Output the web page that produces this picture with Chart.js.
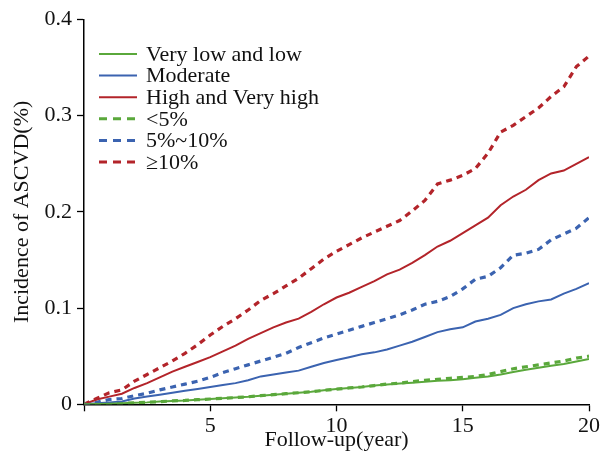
<!DOCTYPE html>
<html>
<head>
<meta charset="utf-8"/>
<title>Incidence of ASCVD</title>
<script src="https://cdn.jsdelivr.net/npm/chart.js@4.4.1/dist/chart.umd.min.js"></script>
<style>
  body { margin: 0; background: #fff; }
  #wrap { width: 612px; height: 454px; }
</style>
</head>
<body>
<div id="wrap"><canvas id="chart" width="612" height="454"></canvas></div>
<script>
// follow-up time (years)
var years = [0, 0.5, 1, 1.5, 2, 2.5, 3, 3.5, 4, 4.5, 5, 5.5, 6, 6.5, 7, 7.5, 8, 8.5, 9, 9.5,
             10, 10.5, 11, 11.5, 12, 12.5, 13, 13.5, 14, 14.5, 15, 15.5, 16, 16.5, 17, 17.5, 18, 18.5, 19, 19.5, 20];

// risk groups (solid)
var lowRisk = [0, 0.0003, 0.0006, 0.001, 0.0015, 0.002, 0.0028, 0.0035, 0.004, 0.0048, 0.0055, 0.0062, 0.007, 0.0078, 0.009, 0.010, 0.011, 0.012, 0.013, 0.0145,
               0.0158, 0.017, 0.018, 0.0195, 0.0205, 0.0215, 0.0225, 0.0235, 0.0245, 0.025, 0.026, 0.0275, 0.029, 0.031, 0.0335, 0.036, 0.038, 0.040, 0.042, 0.0445, 0.047];
var modRisk = [0, 0.001, 0.002, 0.003, 0.006, 0.008, 0.010, 0.012, 0.014, 0.016, 0.018, 0.020, 0.022, 0.025, 0.029, 0.031, 0.033, 0.035, 0.039, 0.043,
               0.046, 0.049, 0.052, 0.054, 0.057, 0.061, 0.065, 0.070, 0.075, 0.078, 0.080, 0.086, 0.089, 0.093, 0.100, 0.104, 0.107, 0.109, 0.115, 0.120, 0.126];
var highRisk = [0, 0.005, 0.008, 0.011, 0.017, 0.022, 0.028, 0.034, 0.039, 0.044, 0.049, 0.055, 0.061, 0.068, 0.074, 0.080, 0.085, 0.089, 0.096, 0.104,
                0.111, 0.116, 0.122, 0.128, 0.135, 0.140, 0.147, 0.155, 0.164, 0.170, 0.178, 0.186, 0.194, 0.207, 0.216, 0.223, 0.233, 0.240, 0.243, 0.250, 0.257];

// predicted 10-year risk groups (dashed)
var under5 = [0, 0.0003, 0.0006, 0.001, 0.0015, 0.002, 0.0028, 0.0035, 0.004, 0.0048, 0.0055, 0.0062, 0.007, 0.0078, 0.009, 0.010, 0.011, 0.012, 0.013, 0.0145,
              0.0158, 0.017, 0.018, 0.0195, 0.021, 0.022, 0.0235, 0.025, 0.026, 0.027, 0.028, 0.029, 0.031, 0.034, 0.037, 0.039, 0.041, 0.043, 0.045, 0.048, 0.050];
var from5to10 = [0, 0.002, 0.005, 0.006, 0.009, 0.0115, 0.015, 0.018, 0.021, 0.024, 0.028, 0.033, 0.037, 0.041, 0.045, 0.049, 0.053, 0.059, 0.064, 0.069,
                 0.073, 0.077, 0.081, 0.085, 0.089, 0.093, 0.098, 0.104, 0.107, 0.112, 0.120, 0.130, 0.133, 0.142, 0.155, 0.157, 0.161, 0.171, 0.177, 0.183, 0.194];
var over10 = [0, 0.006, 0.012, 0.015, 0.024, 0.031, 0.038, 0.045, 0.053, 0.062, 0.072, 0.081, 0.089, 0.098, 0.108, 0.115, 0.123, 0.131, 0.141, 0.151,
              0.159, 0.166, 0.173, 0.179, 0.185, 0.191, 0.201, 0.212, 0.229, 0.233, 0.238, 0.245, 0.261, 0.283, 0.290, 0.299, 0.308, 0.320, 0.330, 0.351, 0.362];

var labels = ['Very low and low', 'Moderate', 'High and Very high', '<5%', '5%~10%', '\u226510%'];

var GREEN = '#5aa83b', BLUE = '#3b63b0', RED = '#b3242a';
var FONT = "'Liberation Serif', 'Times New Roman', serif";

function pts(arr) {
    return arr.map(function(v, i) { return {x: years[i], y: v}; });
}
function solid(label, color, arr) {
    return { label: label, data: pts(arr), borderColor: color, borderWidth: 2,
             pointRadius: 0, tension: 0, fill: false };
}
function dashed(label, color, arr) {
    return { label: label, data: pts(arr), borderColor: color, borderWidth: 3.2,
             borderDash: [6, 5], pointRadius: 0, tension: 0, fill: false };
}

// legend drawn inside the plot, top left
var insideLegend = {
    id: 'insideLegend',
    afterDraw: function(chart) {
        var c = chart.ctx;
        c.save();
        c.font = '22px ' + FONT;
        c.textBaseline = 'middle';
        c.fillStyle = '#111';
        chart.data.datasets.forEach(function(ds, i) {
            var y = 54 + i * 21.6;
            c.beginPath();
            c.strokeStyle = ds.borderColor;
            c.lineWidth = ds.borderDash ? 3 : 2;
            c.setLineDash(ds.borderDash ? [8, 6] : []);
            c.moveTo(99, y);
            c.lineTo(137, y);
            c.stroke();
            c.setLineDash([]);
            c.fillText(ds.label, 146, y + 1);
        });
        c.restore();
    }
};

var ctx = document.getElementById('chart');
var myChart = new Chart(ctx, {
    type: 'line',
    data: {
        datasets: [
            solid(labels[0], GREEN, lowRisk),
            solid(labels[1], BLUE, modRisk),
            solid(labels[2], RED, highRisk),
            dashed(labels[3], GREEN, under5),
            dashed(labels[4], BLUE, from5to10),
            dashed(labels[5], RED, over10)
        ]
    },
    options: {
        responsive: false,
        animation: false,
        layout: { padding: { top: 19.5, right: 23, left: 0, bottom: 0 } },
        plugins: { legend: { display: false }, tooltip: { enabled: false } },
        scales: {
            x: {
                type: 'linear', min: 0, max: 20,
                afterFit: function(s) { s.height = 49.7; },
                ticks: { stepSize: 5, color: '#111', padding: 2,
                         font: { family: FONT, size: 22 },
                         callback: function(v) { return v === 0 ? '' : v; } },
                grid: { drawOnChartArea: false, tickLength: 7, tickColor: '#000', tickWidth: 1.3 },
                border: { color: '#000', width: 1.5 },
                title: { display: true, text: 'Follow-up(year)', color: '#111',
                         font: { family: FONT, size: 22 }, padding: { top: 0, bottom: 1 } }
            },
            y: {
                min: 0, max: 0.4,
                afterFit: function(s) { s.width = 84; },
                ticks: { stepSize: 0.1, color: '#111', padding: 5,
                         font: { family: FONT, size: 22 },
                         callback: function(v) { return v === 0 ? '0' : v.toFixed(1); } },
                grid: { drawOnChartArea: false, tickLength: 7, tickColor: '#000', tickWidth: 1.3 },
                border: { color: '#000', width: 1.5 },
                title: { display: true, text: 'Incidence of ASCVD(%)', color: '#111',
                         font: { family: FONT, size: 22 }, padding: { top: 9, bottom: 0 } }
            }
        }
    },
    plugins: [insideLegend]
});
</script>
</body>
</html>
